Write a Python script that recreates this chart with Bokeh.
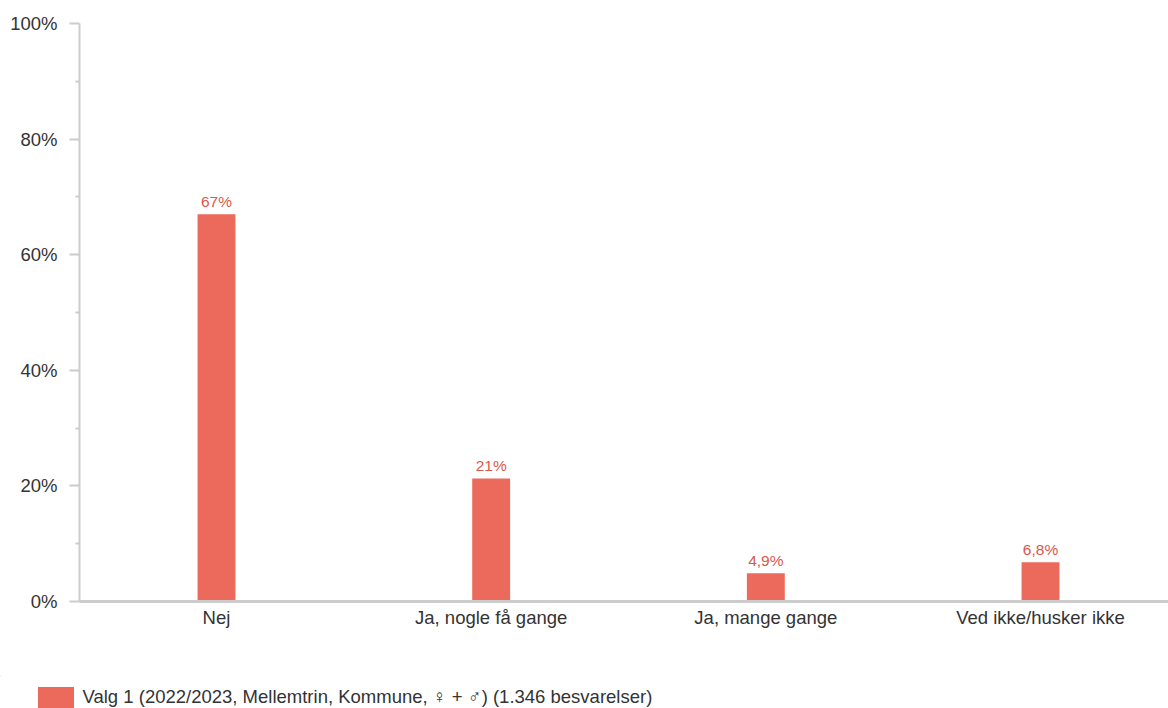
from bokeh.plotting import figure
from bokeh.models import ColumnDataSource, Range1d, FixedTicker, Legend, LegendItem
from bokeh.core.properties import value
from bokeh.embed import file_html
from bokeh.resources import INLINE

categories = ["Nej", "Ja, nogle få gange", "Ja, mange gange", "Ved ikke/husker ikke"]
values = [67.0, 21.3, 4.9, 6.8]
value_labels = ["67%", "21%", "4,9%", "6,8%"]
y_ticks = [0, 20, 40, 60, 80, 100]
y_tick_labels = ["0%", "20%", "40%", "60%", "80%", "100%"]
y_minor_ticks = [10, 30, 50, 70, 90]
series_name = "Valg 1 (2022/2023, Mellemtrin, Kommune, \u2640 + \u2642) (1.346 besvarelser)"

BAR = "#EC6A5C"
LABEL = "#D9584C"
AXIS = "#CCCCCC"
FONT = "Liberation Sans"

xs = list(range(len(categories)))
src = ColumnDataSource(dict(x=xs, top=values, lab=value_labels))

p = figure(width=1168, height=676, output_backend="svg", toolbar_location=None,
           x_range=Range1d(-0.4988, 3.466), y_range=Range1d(0, 100),
           min_border_left=79, min_border_top=23, min_border_right=0, min_border_bottom=75)
p.outline_line_color = None
p.grid.visible = False
p.background_fill_color = "white"
p.border_fill_color = "white"

p.vbar(x="x", top="top", width=0.138, bottom=0, source=src, color=BAR, line_color=None)
p.text(x="x", y="top", text="lab", source=src, text_align="center", text_baseline="bottom",
       y_offset=-4, text_font=value(FONT), text_font_size="15.5px", text_color=LABEL)

ya = p.yaxis[0]
ya.ticker = FixedTicker(ticks=y_ticks, minor_ticks=y_minor_ticks)
ya.major_label_overrides = {t: l for t, l in zip(y_ticks, y_tick_labels)}
ya.axis_line_color = AXIS
ya.axis_line_width = 2
ya.major_tick_line_color = AXIS
ya.major_tick_line_width = 2
ya.major_tick_out = 10
ya.major_tick_in = 0
ya.minor_tick_line_color = AXIS
ya.minor_tick_line_width = 2
ya.minor_tick_out = 4
ya.minor_tick_in = 0
ya.major_label_text_font = FONT
ya.major_label_text_font_size = "18.5px"
ya.major_label_text_color = "#333333"
ya.major_label_standoff = 12

xa = p.xaxis[0]
xa.ticker = FixedTicker(ticks=xs)
xa.major_label_overrides = {i: c for i, c in zip(xs, categories)}
xa.axis_line_color = AXIS
xa.axis_line_width = 3
xa.major_tick_line_color = None
xa.minor_tick_line_color = None
xa.major_tick_out = 0
xa.minor_tick_out = 0
xa.major_label_text_font = FONT
xa.major_label_text_font_size = "18.5px"
xa.major_label_text_color = "#333333"
xa.major_label_standoff = 5

# legend strip below the chart (separate root, so its frame is not aligned to the chart's)
lg = figure(width=1168, height=32, output_backend="svg", toolbar_location=None,
            x_range=Range1d(100, 101), y_range=Range1d(-200, -100),
            min_border=0, min_border_left=0, min_border_right=0,
            min_border_top=0, min_border_bottom=0)
lg.axis.visible = False
lg.grid.visible = False
lg.outline_line_color = None
lg.background_fill_color = "white"
lg.border_fill_color = "white"
swatch = lg.vbar(x="x", top="top", width=0.1, bottom=0, source=src, color=BAR, line_color=None)

legend = Legend(items=[LegendItem(label=series_name, renderers=[swatch])],
                location=(32.5, -1.5), orientation="horizontal",
                glyph_width=45, glyph_height=26,
                label_text_font="Liberation Sans, DejaVu Sans",
                label_text_font_size="18.5px", label_text_color="#333333",
                border_line_color=None, background_fill_alpha=0,
                padding=0, margin=0, spacing=0, label_standoff=5)
lg.add_layout(legend, "center")

open("out.html", "w").write(file_html([p, lg], INLINE))
